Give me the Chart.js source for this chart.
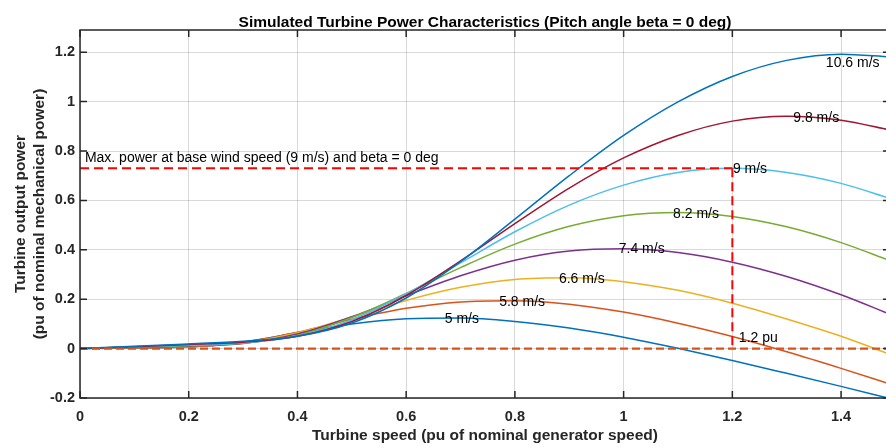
<!DOCTYPE html>
<html>
<head>
<meta charset="utf-8">
<title>Turbine Power Characteristics</title>
<script src="https://cdn.jsdelivr.net/npm/chart.js@4.4.1/dist/chart.umd.min.js"></script>
<style>
    html, body { margin: 0; padding: 0; background: #ffffff; }
    #wrap { width: 886px; height: 448px; overflow: hidden; position: relative; }
    #turbineChart { display: block; }
</style>
</head>
<body>
<div id="wrap"><canvas id="turbineChart" width="894" height="448"></canvas></div>
<script>
// turbine speed (pu of nominal generator speed)
const turbineSpeed = [0, 0.1, 0.2, 0.3, 0.4, 0.5, 0.6, 0.7, 0.8, 0.9, 1.0, 1.1, 1.2, 1.3, 1.4, 1.49];

// output power (pu) for each wind speed
const power5   = [0, 0.002, 0.006, 0.027, 0.064, 0.100, 0.121, 0.124, 0.110, 0.083, 0.046, 0.001, -0.048, -0.100, -0.153, -0.202];
const power58  = [0, 0.003, 0.007, 0.025, 0.066, 0.119, 0.163, 0.189, 0.194, 0.180, 0.148, 0.103, 0.049, -0.013, -0.080, -0.143];
const power66  = [0, 0.004, 0.008, 0.023, 0.064, 0.128, 0.195, 0.248, 0.280, 0.287, 0.271, 0.236, 0.184, 0.120, 0.050, -0.023];
const power74  = [0, 0.005, 0.010, 0.021, 0.059, 0.129, 0.214, 0.295, 0.358, 0.395, 0.404, 0.389, 0.350, 0.292, 0.218, 0.139];
const power82  = [0, 0.006, 0.012, 0.022, 0.054, 0.126, 0.223, 0.328, 0.423, 0.495, 0.538, 0.551, 0.535, 0.493, 0.429, 0.356];
const power90  = [0, 0.007, 0.014, 0.023, 0.051, 0.117, 0.222, 0.347, 0.473, 0.581, 0.662, 0.713, 0.730, 0.713, 0.669, 0.608];
const power98  = [0, 0.008, 0.017, 0.026, 0.050, 0.110, 0.215, 0.355, 0.506, 0.650, 0.772, 0.863, 0.921, 0.941, 0.925, 0.885];
const power106 = [0, 0.010, 0.019, 0.030, 0.050, 0.104, 0.205, 0.352, 0.524, 0.700, 0.863, 0.999, 1.102, 1.167, 1.192, 1.181];

const windLabels = ['5 m/s', '5.8 m/s', '6.6 m/s', '7.4 m/s', '8.2 m/s', '9 m/s', '9.8 m/s', '10.6 m/s'];
const powerSeries = [power5, power58, power66, power74, power82, power90, power98, power106];

const maxPower = 0.73;   // max power at base wind speed
const baseSpeed = 1.2;   // turbine speed at that maximum
const speedMax = 1.49;
const powerMin = -0.2;
const powerMax = 1.29;

const seriesColors = ['#0072BD', '#D95319', '#EDB120', '#7E2F8E', '#77AC30', '#4DBEEE', '#A2142F', '#0072BD'];

// text placed on the curves, in axis units
const curveLabels = [
    {text: '10.6 m/s', x: 1.372, y: 1.154},
    {text: '9.8 m/s', x: 1.312, y: 0.935},
    {text: '9 m/s', x: 1.201, y: 0.726},
    {text: '8.2 m/s', x: 1.091, y: 0.543},
    {text: '7.4 m/s', x: 0.991, y: 0.404},
    {text: '6.6 m/s', x: 0.881, y: 0.280},
    {text: '5.8 m/s', x: 0.771, y: 0.189},
    {text: '5 m/s', x: 0.671, y: 0.118},
    {text: '1.2 pu', x: 1.212, y: 0.044},
    {text: 'Max. power at base wind speed (9 m/s) and beta = 0 deg', x: 0.009, y: 0.770}
];

const FONT = '"Liberation Sans", Arial, Helvetica, sans-serif';
const AXIS_COLOR = '#262626';

function toPoints(values) {
    return values.map((p, k) => ({x: turbineSpeed[k], y: p}));
}

const datasets = powerSeries.map((values, i) => ({
    label: windLabels[i],
    data: toPoints(values),
    borderColor: seriesColors[i],
    borderWidth: 1.5,
    pointRadius: 0,
    cubicInterpolationMode: 'monotone',
    order: 20 - i
}));

// reference lines drawn over the curves
datasets.push({
    label: 'zero',
    data: [{x: 0, y: 0}, {x: speedMax, y: 0}],
    borderColor: '#D95319',
    borderWidth: 2.2,
    borderDash: [8, 4],
    pointRadius: 0,
    order: 2
});
datasets.push({
    label: 'max power',
    data: [{x: 0, y: maxPower}, {x: baseSpeed, y: maxPower}],
    borderColor: '#FF0000',
    borderWidth: 2,
    borderDash: [9, 5],
    pointRadius: 0,
    order: 1
});
datasets.push({
    label: 'base speed',
    data: [{x: baseSpeed, y: maxPower}, {x: baseSpeed, y: 0}],
    borderColor: '#FF0000',
    borderWidth: 2,
    borderDash: [9, 5],
    pointRadius: 0,
    order: 0
});

function tickText(value) {
    return String(+value.toFixed(2));
}

// box, inward tick marks, titles and curve labels
const frameAndText = {
    id: 'frameAndText',
    afterDraw(chart) {
        const {ctx, chartArea: area, scales} = chart;
        const x = scales.x;
        const y = scales.y;
        const tickLen = 7;

        ctx.save();
        ctx.strokeStyle = AXIS_COLOR;
        ctx.lineWidth = 1.5;
        ctx.beginPath();
        y.ticks.forEach(t => {
            const py = y.getPixelForValue(t.value);
            ctx.moveTo(area.left, py);
            ctx.lineTo(area.left + tickLen, py);
            ctx.moveTo(area.right, py);
            ctx.lineTo(area.right - tickLen, py);
        });
        x.ticks.forEach(t => {
            const px = x.getPixelForValue(t.value);
            ctx.moveTo(px, area.bottom);
            ctx.lineTo(px, area.bottom - tickLen);
            ctx.moveTo(px, area.top);
            ctx.lineTo(px, area.top + tickLen);
        });
        ctx.stroke();
        ctx.strokeRect(area.left, area.top, area.right - area.left, area.bottom - area.top);

        // curve labels
        ctx.font = '14px ' + FONT;
        ctx.fillStyle = '#000000';
        ctx.textAlign = 'left';
        ctx.textBaseline = 'middle';
        curveLabels.forEach(l => {
            ctx.fillText(l.text, x.getPixelForValue(l.x), y.getPixelForValue(l.y));
        });

        const midX = (area.left + area.right) / 2;
        const midY = (area.top + area.bottom) / 2;

        ctx.textAlign = 'center';
        ctx.textBaseline = 'alphabetic';
        ctx.fillStyle = '#000000';
        ctx.font = 'bold 15.5px ' + FONT;
        ctx.fillText('Simulated Turbine Power Characteristics (Pitch angle beta = 0 deg)', midX, 27);

        ctx.fillStyle = AXIS_COLOR;
        ctx.fillText('Turbine speed (pu of nominal generator speed)', midX, 440);

        ctx.translate(25, midY);
        ctx.rotate(-Math.PI / 2);
        ctx.fillText('Turbine output power', 0, 0);
        ctx.fillText('(pu of nominal mechanical power)', 0, 19);
        ctx.restore();
    }
};

new Chart(document.getElementById('turbineChart'), {
    type: 'line',
    data: {datasets: datasets},
    options: {
        responsive: false,
        animation: false,
        events: [],
        layout: {padding: {top: 30, right: 4, left: 0, bottom: 0}},
        plugins: {
            legend: {display: false},
            tooltip: {enabled: false},
            title: {display: false}
        },
        scales: {
            x: {
                type: 'linear',
                min: 0,
                max: speedMax,
                afterFit: scale => { scale.height = 50; },
                border: {display: false},
                grid: {color: 'rgba(0,0,0,0.15)', lineWidth: 1, drawTicks: false},
                ticks: {
                    stepSize: 0.2,
                    includeBounds: false,
                    padding: 10,
                    color: AXIS_COLOR,
                    font: {family: FONT, size: 14.5, weight: 'bold'},
                    callback: tickText,
                    maxRotation: 0
                }
            },
            y: {
                type: 'linear',
                min: powerMin,
                max: powerMax,
                afterFit: scale => { scale.width = 80; },
                border: {display: false},
                grid: {color: 'rgba(0,0,0,0.15)', lineWidth: 1, drawTicks: false},
                ticks: {
                    stepSize: 0.2,
                    includeBounds: false,
                    padding: 5,
                    color: AXIS_COLOR,
                    font: {family: FONT, size: 14.5, weight: 'bold'},
                    callback: tickText
                }
            }
        }
    },
    plugins: [frameAndText]
});
</script>
</body>
</html>
